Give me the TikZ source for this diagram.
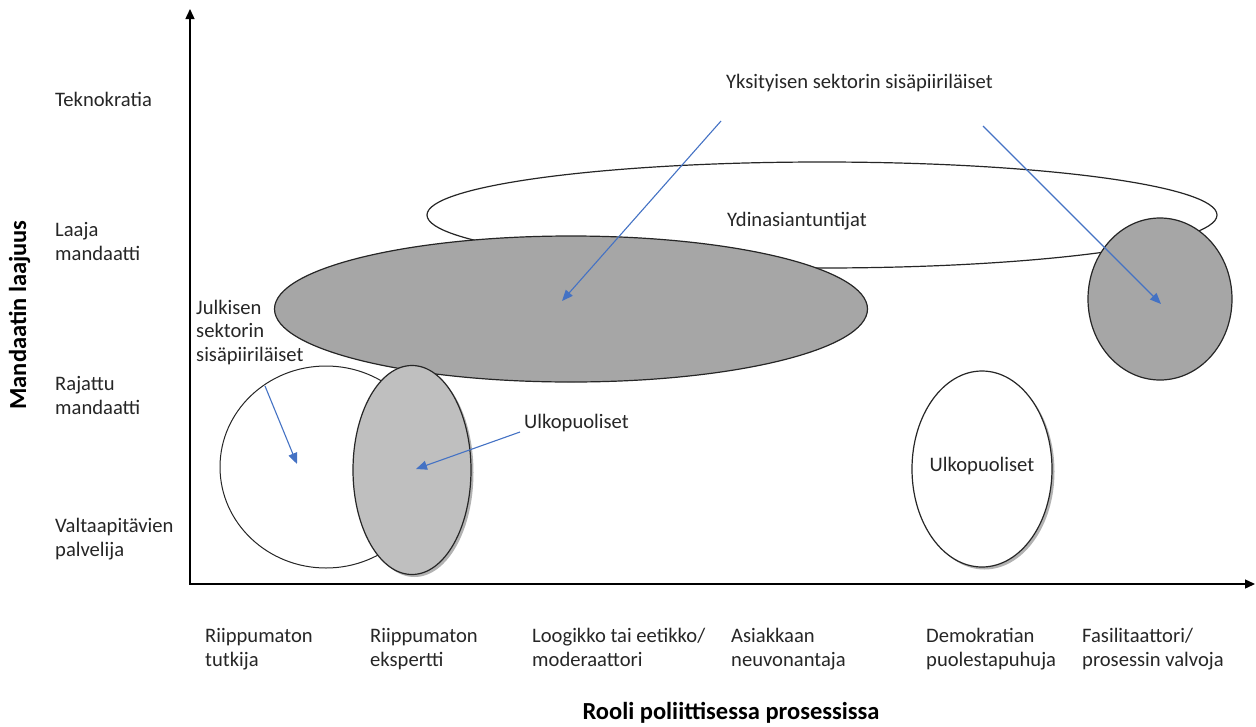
\documentclass[tikz,border=0pt]{standalone}
\usepackage{fontspec}
\setmainfont{Carlito}
\usetikzlibrary{arrows.meta,shapes.geometric,shadows}
\definecolor{arrowblue}{HTML}{4472C4}
\definecolor{midgray}{HTML}{A6A6A6}
\definecolor{lightgraytwo}{HTML}{BFBFBF}
\definecolor{textgray}{HTML}{262626}
\tikzset{
  blob/.style={ellipse, draw=black!85, line width=1.2pt, inner sep=0pt},
  softshadow/.style={drop shadow={shadow xshift=2.5pt, shadow yshift=-2.5pt, opacity=0.3, fill=black}},
  lbl/.style={anchor=base west, inner sep=0pt, align=left, text=textgray, font=\fontsize{20.6}{23.5}\selectfont},
  clbl/.style={anchor=base, inner sep=0pt, align=center, text=textgray, font=\fontsize{20.6}{23.5}\selectfont},
  axistitle/.style={inner sep=0pt, font=\fontsize{24.5}{28}\selectfont\bfseries},
  axisline/.style={line width=1.3pt, draw=black},
  pointer/.style={draw=arrowblue, line width=1.1pt, -{Triangle[length=11pt, width=9pt]}}
}
\begin{document}
\begin{tikzpicture}[x=1pt,y=-1pt]
\useasboundingbox (0,0) rectangle (1256,726);
% ellipses (back to front)
\node[blob, fill=white, minimum width=790pt, minimum height=106pt] (core) at (822,215) {};
\node[blob, fill=midgray, minimum width=593pt, minimum height=146pt] (pub) at (571,309) {};
\node[blob, fill=midgray, minimum width=144pt, minimum height=162pt] (priv) at (1160,299) {};
\node[blob, fill=white, line width=1pt, minimum width=212pt, minimum height=202pt] (res) at (326,467) {};
\node[blob, fill=lightgraytwo, softshadow, minimum width=118pt, minimum height=209pt] (exp) at (412,470) {};
\node[blob, fill=white, softshadow, minimum width=140pt, minimum height=196pt] (out) at (982,469) {};
% axes
\coordinate (O) at (190,584);
\coordinate (ytop) at (190,9);
\coordinate (xend) at (1255,584);
\draw[axisline, {Triangle[length=10pt,width=9pt]}-{Triangle[length=10pt,width=9pt]}] (ytop) -- (O) -- (xend);
% texts (multi-line nodes: base = last line)
\node[clbl] (coret) at (797,226) {Ydinasiantuntijat};
\node[lbl] (privt) at (726,88) {Yksityisen sektorin sisäpiiriläiset};
\node[lbl] (pubt) at (196,361) {Julkisen\\sektorin\\sisäpiiriläiset};
\node[lbl] (outt) at (524,428) {Ulkopuoliset};
\node[clbl] (outin) at (982,471) {Ulkopuoliset};
% y labels
\node[lbl] (y1) at (55,106) {Teknokratia};
\node[lbl] (y2) at (55,260) {Laaja\\mandaatti};
\node[lbl] (y3) at (55,414) {Rajattu\\mandaatti};
\node[lbl] (y4) at (55,556) {Valtaapitävien\\palvelija};
% x labels
\node[lbl] (x1) at (205,666) {Riippumaton\\tutkija};
\node[lbl] (x2) at (370,666) {Riippumaton\\ekspertti};
\node[lbl] (x3) at (532,666) {Loogikko tai eetikko/\\moderaattori};
\node[lbl] (x4) at (731,666) {Asiakkaan\\neuvonantaja};
\node[lbl] (x5) at (926,666) {Demokratian\\puolestapuhuja};
\node[lbl] (x6) at (1082,666) {Fasilitaattori/\\prosessin valvoja};
% axis titles
\node[axistitle, anchor=base] (xtitle) at (731,719) {Rooli poliittisessa prosessissa};
\node[axistitle, rotate=90, anchor=base] (ytitle) at (26,315) {Mandaatin laajuus};
% pointers
\coordinate (a1s) at (721,121);
\coordinate (a1e) at (562,301);
\coordinate (a2s) at (983,126);
\coordinate (a2e) at (1161,304);
\coordinate (a3s) at (265,386);
\coordinate (a3e) at (297,464);
\coordinate (a4s) at (520,432);
\coordinate (a4e) at (416,469);
\draw[pointer] (a1s) -- (a1e);
\draw[pointer] (a2s) -- (a2e);
\draw[pointer] (a3s) -- (a3e);
\draw[pointer] (a4s) -- (a4e);
\end{tikzpicture}
\end{document}
